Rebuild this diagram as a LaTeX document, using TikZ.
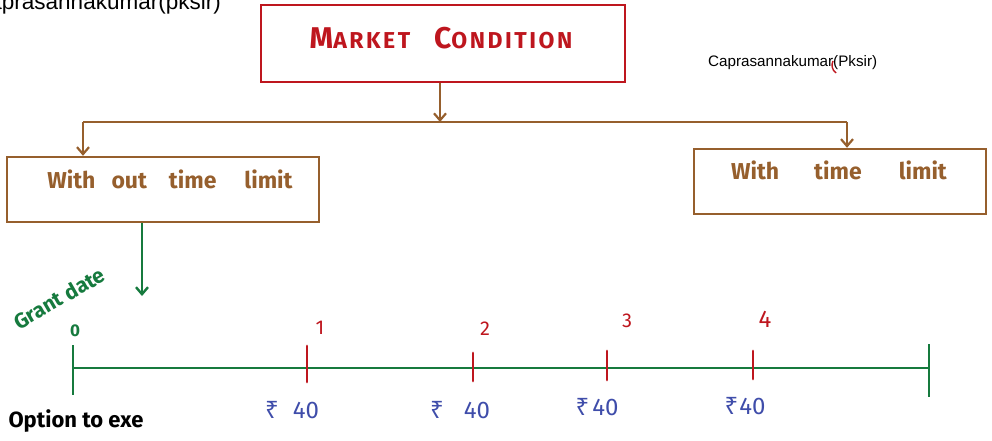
\documentclass[tikz,border=0pt]{standalone}
\usepackage{fontspec}
\setmainfont{Fira Sans}
\newfontfamily\wmfont{Liberation Sans}
\newfontfamily\rupfont{Noto Sans}
\usetikzlibrary{arrows.meta}
\definecolor{mcred}{RGB}{190,22,30}
\definecolor{mcbrown}{RGB}{150,95,45}
\definecolor{mcgreen}{RGB}{22,122,62}
\definecolor{mcblue}{RGB}{63,77,170}
\newcommand{\rup}{{\rupfont ₹}}
\tikzset{
  boxred/.style={draw=mcred, line width=2.4pt, inner sep=0pt},
  boxbrown/.style={draw=mcbrown, line width=2.4pt, inner sep=0pt},
  conbrown/.style={draw=mcbrown, line width=2.2pt},
  congreen/.style={draw=mcgreen, line width=2.4pt},
  tickred/.style={draw=mcred, line width=2.8pt, line cap=round},
  tip/.style={-{Straight Barb[length=7pt,width=12pt]}},
  hand/.style={inner sep=0pt, font=\bfseries\fontsize{23}{26}\selectfont},
  num/.style={inner sep=0pt, text=mcred, font=\fontsize{20}{23}\selectfont},
  money/.style={inner sep=0pt, text=mcblue, font=\fontsize{24}{28}\selectfont}
}
\begin{document}
\begin{tikzpicture}[x=1pt,y=-1pt]
\useasboundingbox (0,0) rectangle (992,441);
\clip (0,0) rectangle (992,441);
% watermarks
\node[anchor=base east, inner sep=0pt, font=\wmfont\fontsize{22.5}{26}\selectfont] (wm1) at (221,10) {Caprasannakumar(pksir)};
\node[anchor=base west, inner sep=0pt, font=\wmfont\fontsize{15.2}{18}\selectfont] (wm2) at (708,67) {Caprasannakumar(Pksir)};
\draw[mcred, line width=1.4pt] (833,61) .. controls (831,65) and (832,70) .. (836,73);
% boxes
\node[boxred, minimum width=364pt, minimum height=77pt] (mc) at (443,43.5) {};
\node[text=mcred, inner sep=0pt, font=\bfseries\fontsize{23}{28}\selectfont\addfontfeatures{LetterSpace=11}] (mct) at (441,38) {{\fontsize{30}{30}\selectfont M}ARKET\hspace{24pt}{\fontsize{30}{30}\selectfont C}ONDITION};
\node[boxbrown, minimum width=312pt, minimum height=65pt] (lb) at (163,189.5) {};
\node[hand, text=mcbrown] (lbt) at (170,179) {With\hspace{16pt}out\hspace{22pt}time\hspace{28pt}limit};
\node[boxbrown, minimum width=292pt, minimum height=65pt] (rb) at (840,181.5) {};
\node[hand, text=mcbrown] (rbt) at (839,170) {With\hspace{35pt}time\hspace{37pt}limit};
% brown connectors
\coordinate (bus) at (440,122);
\coordinate (bl) at (83,122);
\coordinate (br) at (847,122);
\draw[conbrown, tip] (mc.south -| bus) -- (bus);
\draw[conbrown] (bl) -- (br);
\draw[conbrown, tip] (bl) -- (bl |- lb.north);
\draw[conbrown, tip] (br) -- (br |- rb.north);
% green arrow
\coordinate (ga) at (142,296);
\draw[congreen, tip] (lb.south -| ga) -- (ga);
\node[inner sep=0pt, text=mcgreen, rotate=30, font=\bfseries\fontsize{21}{24}\selectfont] (gd) at (59,298) {Grant date};
\node[inner sep=0pt, text=mcgreen, font=\bfseries\fontsize{17}{20}\selectfont] (z) at (75,331) {0};
% timeline
\coordinate (t0) at (73,368);
\coordinate (t1) at (929,368);
\draw[congreen] (t0) -- (t1);
\draw[congreen] (t0) ++(0,-23) -- ++(0,50);
\draw[congreen] (t1) ++(0,-24) -- ++(0,53);
\coordinate (m1) at (307,368);
\coordinate (m2) at (473,368);
\coordinate (m3) at (607,368);
\coordinate (m4) at (753,368);
\draw[tickred] (m1) ++(0,-22) -- ++(0,36);
\draw[tickred] (m2) ++(0,-15) -- ++(0,28);
\draw[tickred] (m3) ++(0,-17) -- ++(0,29);
\draw[tickred] (m4) ++(0,-17) -- ++(0,28);
\node[num] (n1) at (320,328) {1};
\node[num] (n2) at (485,329) {2};
\node[num] (n3) at (627,321) {3};
\node[num, font=\fontsize{24}{27}\selectfont] (n4) at (765,319) {4};
\node[money] (r1) at (292,410) {\rup\hspace{14pt}40};
\node[money] (r2) at (460,410) {\rup\hspace{20pt}40};
\node[money] (r3) at (597,407) {\rup\hspace{3pt}40};
\node[money] (r4) at (745,406) {\rup\hspace{1pt}40};
\node[inner sep=0pt, font=\bfseries\fontsize{22}{25}\selectfont] (opt) at (76,421) {Option to exe};
\end{tikzpicture}
\end{document}
